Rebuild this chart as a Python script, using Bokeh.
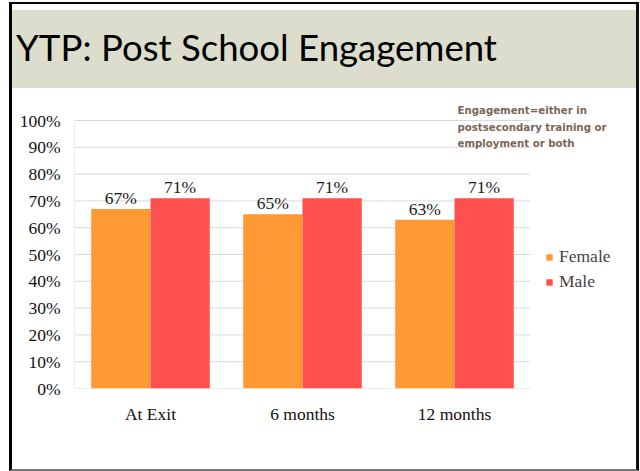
from bokeh.plotting import figure
from bokeh.layouts import column
from bokeh.models import (ColumnDataSource, Range1d, NumeralTickFormatter, FixedTicker,
                          LabelSet, Label, Legend, LegendItem, Div)
from bokeh.transform import dodge
from bokeh.core.properties import value
from bokeh.embed import file_html
from bokeh.resources import INLINE

categories = ["At Exit", "6 months", "12 months"]
female = [0.67, 0.65, 0.63]
male = [0.71, 0.71, 0.71]
female_labels = ["67%", "65%", "63%"]
male_labels = ["71%", "71%", "71%"]
y_ticks = [i / 10 for i in range(11)]

title_text = "YTP: Post School Engagement"
note_lines = ["Engagement=either in", "postsecondary training or", "employment or both"]

xc = [i + 0.5 for i in range(len(categories))]
src = ColumnDataSource(dict(xc=xc, female=female, male=male,
                            fl=female_labels, ml=male_labels))

W = 624
DIV_H = 92
H = 373
ML, MR, MT, MB = 62, 0, 4, 81
FW, FH = W - ML - MR, H - MT - MB
PX_PER_CAT, PX_PER_UNIT = 152.0, 268.0
FRAME_LEFT, FRAME_BOTTOM = 74, 388   # page positions used for the note texts

banner = Div(text=(
    '<div style="margin:6px 0 0 0; width:%dpx; height:78px; background:#DCDDCD; '
    'box-sizing:border-box; padding:19px 0 0 4px; font-family:Lato; font-size:36.6px; '
    'line-height:36px; color:#000; white-space:nowrap;">%s</div>') % (W, title_text),
    width=W, height=DIV_H, margin=0)

p = figure(width=W, height=H,
           x_range=Range1d(0, FW / PX_PER_CAT), y_range=Range1d(0, FH / PX_PER_UNIT),
           output_backend="svg", toolbar_location=None, margin=0,
           min_border_left=ML, min_border_right=MR, min_border_top=MT, min_border_bottom=MB)
p.title.visible = False
p.extra_x_ranges = {"px": Range1d(0, FW)}
p.extra_y_ranges = {"py": Range1d(0, FH)}
p.outline_line_color = None
p.background_fill_color = "white"
p.border_fill_color = "white"

serif = "Liberation Serif"
grid_c = "#D9D9D9"
fs = "17.5px"

# gridlines only across the category area, plus the left axis line
n = len(categories)
p.segment(x0=[0] * len(y_ticks), x1=[n] * len(y_ticks), y0=y_ticks, y1=y_ticks,
          line_color=grid_c, line_width=1)
p.segment(x0=[0], x1=[0], y0=[0], y1=[1], line_color=grid_c, line_width=1)

rf = p.vbar(x=dodge("xc", -0.195), top="female", width=0.39, source=src,
            fill_color="#FF9933", line_color=None)
rm = p.vbar(x=dodge("xc", 0.195), top="male", width=0.39, source=src,
            fill_color="#FF5050", line_color=None)

for col, lab, off in (("female", "fl", -0.195), ("male", "ml", 0.195)):
    p.add_layout(LabelSet(x=dodge("xc", off), y=col, text=lab, source=src,
                          text_align="center", text_baseline="alphabetic", y_offset=5,
                          text_font=value(serif), text_font_size=fs, text_color="#1a1a1a"))

p.yaxis.ticker = FixedTicker(ticks=y_ticks)
p.yaxis.formatter = NumeralTickFormatter(format="0%")
p.xaxis.ticker = FixedTicker(ticks=xc)
p.xaxis.major_label_overrides = {x: c for x, c in zip(xc, categories)}
for ax in (p.xaxis, p.yaxis):
    ax.axis_line_color = None
    ax.major_tick_line_color = None
    ax.minor_tick_line_color = None
    ax.major_tick_out = 0
    ax.major_tick_in = 0
    ax.major_label_text_font = serif
    ax.major_label_text_color = "#111111"
    ax.major_label_text_font_size = fs
p.yaxis.major_label_standoff = 14
p.xaxis.major_label_standoff = 15
p.xgrid.grid_line_color = None
p.ygrid.grid_line_color = None

note_y = [110, 126.5, 143]
for t, yy in zip(note_lines, note_y):
    p.add_layout(Label(x=457 - FRAME_LEFT, y=FRAME_BOTTOM - yy, text=t,
                       x_range_name="px", y_range_name="py",
                       text_baseline="alphabetic", text_font="DejaVu Sans",
                       text_font_style="bold", text_font_size="10.2px", text_color="#7A6658"))

legend = Legend(items=[LegendItem(label="Female", renderers=[rf]),
                       LegendItem(label="Male", renderers=[rm])],
                location=(471, 96), orientation="vertical",
                glyph_width=8, glyph_height=8, label_standoff=6, spacing=4,
                label_height=20, padding=0, margin=0,
                label_text_font=serif, label_text_font_size=fs,
                border_line_color=None, background_fill_alpha=0)
p.add_layout(legend, "center")

layout = column(banner, p, spacing=0, margin=(2, 0, 0, 9),
                styles={"border-left": "3px solid black", "border-top": "2px solid black",
                        "border-right": "3px solid #111111", "border-bottom": "2px solid #777777"})

open("out.html", "w").write(file_html(layout, INLINE))
